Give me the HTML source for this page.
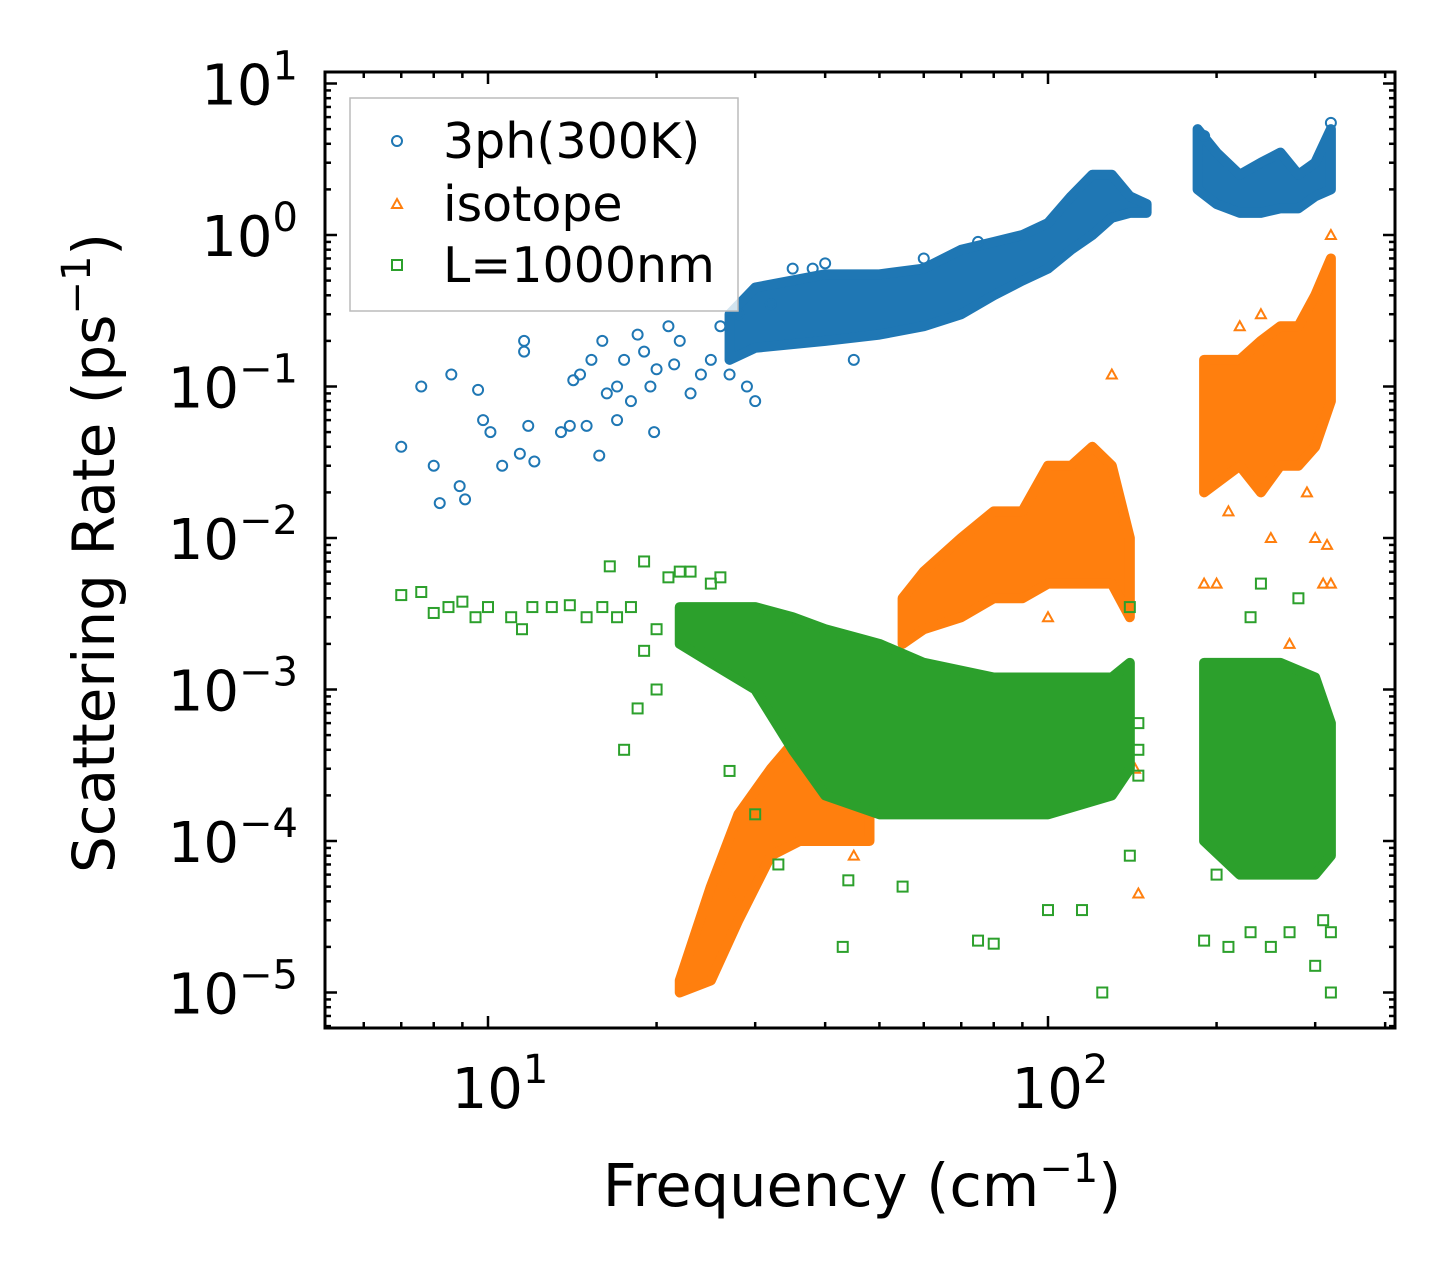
<!DOCTYPE html>
<html><head><meta charset="utf-8"><style>
body{margin:0;background:#fff}
svg{display:block;font-family:"DejaVu Sans","Liberation Sans",sans-serif}
</style></head><body>
<svg id="chart" width="1455" height="1279" viewBox="0 0 1455 1279" xmlns="http://www.w3.org/2000/svg">
<rect width="1455" height="1279" fill="#fff"/>
<g id="marks"></g>
<g id="axes"></g>
<text x="862" y="1206" font-size="59" text-anchor="middle">Frequency (cm<tspan dy="-24" font-size="40">−1</tspan><tspan dy="24">)</tspan></text>
<text transform="translate(114,553) rotate(-90)" font-size="58" text-anchor="middle">Scattering Rate (ps<tspan dy="-24" font-size="40">−1</tspan><tspan dy="24">)</tspan></text>
<g>
<rect x="350" y="98" width="388" height="213" fill="#fff" fill-opacity="0.8" stroke="#bbb" stroke-width="1.5"/>
<circle cx="397" cy="141" r="5" fill="none" stroke="#1f77b4" stroke-width="2"/>
<text x="443" y="158" font-size="49">3ph(300K)</text>
<path d="M397,199 l5,9 l-10,0 z" fill="none" stroke="#ff7f0e" stroke-width="2"/>
<text x="443" y="221" font-size="49">isotope</text>
<rect x="392" y="260" width="10" height="10" fill="none" stroke="#2ca02c" stroke-width="2"/>
<text x="443" y="282" font-size="49">L=1000nm</text>
</g>
</svg>
<script>
// dense cloud envelopes [x, ylow, yhigh]
const blueBand1=[[27,0.15,0.3],[30,0.18,0.45],[40,0.2,0.55],[50,0.22,0.55],[60,0.25,0.6],[70,0.3,0.8],[80,0.4,0.9],[90,0.5,1.0],[100,0.6,1.2],[110,0.8,1.8],[120,1.0,2.5],[130,1.3,2.5],[140,1.4,1.8],[150,1.4,1.6]];
const blueBand2=[[185,2,5],[200,1.6,3.5],[220,1.4,2.5],[240,1.4,3],[260,1.5,3.5],[280,1.5,2.5],[300,1.8,3],[320,2,5]];
const orangeBand1=[[22,1e-5,1.2e-5],[25,1.2e-5,5e-5],[28,3e-5,1.5e-4],[32,8e-5,3e-4],[36,1e-4,5e-4],[42,1e-4,8e-4],[48,1e-4,6e-4]];
const orangeBand2=[[55,2e-3,4e-3],[60,2.5e-3,6e-3],[70,3e-3,1e-2],[80,4e-3,1.5e-2],[90,4e-3,1.5e-2],[100,5e-3,3e-2],[110,5e-3,3e-2],[120,5e-3,4e-2],[130,5e-3,3e-2],[140,3e-3,1e-2]];
const orangeBand3=[[190,2e-2,1.5e-1],[220,3e-2,1.5e-1],[240,2e-2,2e-1],[260,3e-2,2.5e-1],[280,3e-2,2.5e-1],[300,4e-2,4e-1],[320,8e-2,7e-1]];
const greenBand1=[[22,2e-3,3.5e-3],[25,1.5e-3,3.5e-3],[30,1e-3,3.5e-3],[35,4e-4,3e-3],[40,2e-4,2.5e-3],[50,1.5e-4,2e-3],[60,1.5e-4,1.5e-3],[80,1.5e-4,1.2e-3],[100,1.5e-4,1.2e-3],[130,2e-4,1.2e-3],[140,3e-4,1.5e-3]];
const greenBand2=[[190,1e-4,1.5e-3],[220,6e-5,1.5e-3],[260,6e-5,1.5e-3],[300,6e-5,1.2e-3],[320,8e-5,6e-4]];
// outlier points [x,y]
const bluePts=[[7,0.04],[7.6,0.1],[8,0.03],[8.2,0.017],[8.6,0.12],[8.9,0.022],[9.1,0.018],[9.6,0.095],[9.8,0.06],[10.1,0.05],[10.6,0.03],[11.4,0.036],[11.6,0.2],[11.6,0.17],[11.8,0.055],[12.1,0.032],[13.5,0.05],[14,0.055],[14.2,0.11],[14.6,0.12],[15,0.055],[15.3,0.15],[15.8,0.035],[16,0.2],[16.3,0.09],[17,0.1],[17,0.06],[17.5,0.15],[18,0.08],[18.5,0.22],[19,0.17],[19.5,0.1],[19.8,0.05],[20,0.13],[21,0.25],[21.5,0.14],[22,0.2],[23,0.09],[24,0.12],[25,0.15],[26,0.25],[27,0.12],[28,0.3],[29,0.1],[30,0.08],[32,0.35],[35,0.6],[38,0.6],[40,0.65],[45,0.15],[60,0.7],[75,0.9],[190,4.5],[320,5.5]];
const orangePts=[[27,4.5e-5],[45,8e-5],[58,1.5e-3],[100,3e-3],[130,1e-3],[145,4.5e-5],[143,3e-4],[190,5e-3],[200,5e-3],[210,1.5e-2],[250,1e-2],[270,2e-3],[300,1e-2],[310,5e-3],[315,9e-3],[320,5e-3],[290,2e-2],[320,1],[220,0.25],[240,0.3],[130,0.12]];
const greenPts=[[7,4.2e-3],[7.6,4.4e-3],[8,3.2e-3],[8.5,3.5e-3],[9,3.8e-3],[9.5,3e-3],[10,3.5e-3],[11,3e-3],[11.5,2.5e-3],[12,3.5e-3],[13,3.5e-3],[14,3.6e-3],[15,3e-3],[16,3.5e-3],[16.5,6.5e-3],[17,3e-3],[18,3.5e-3],[19,7e-3],[19,1.8e-3],[20,2.5e-3],[21,5.5e-3],[22,6e-3],[23,6e-3],[24,2e-3],[25,5e-3],[26,5.5e-3],[17.5,4e-4],[18.5,7.5e-4],[20,1e-3],[27,2.9e-4],[30,1.5e-4],[33,7e-5],[43,2e-5],[44,5.5e-5],[55,5e-5],[75,2.2e-5],[80,2.1e-5],[125,1e-5],[115,3.5e-5],[100,3.5e-5],[140,8e-5],[145,2.7e-4],[145,4e-4],[145,6e-4],[190,2.2e-5],[210,2e-5],[230,2.5e-5],[250,2e-5],[270,2.5e-5],[300,1.5e-5],[320,1e-5],[310,3e-5],[200,6e-5],[230,3e-3],[240,5e-3],[280,4e-3],[320,2.5e-5],[140,3.5e-3]];
const xTicks=[1,2];
const yTicks=[1,0,-1,-2,-3,-4,-5];

const NS="http://www.w3.org/2000/svg";
const L=325,R=1395,T=72,B=1028;
const X=v=>488+(Math.log10(v)-1)*560;
const Y=v=>235-Math.log10(v)*151.5;
function el(tag,attrs,parent){const e=document.createElementNS(NS,tag);for(const k in attrs)e.setAttribute(k,attrs[k]);parent.appendChild(e);return e;}
const marks=document.getElementById('marks'),axes=document.getElementById('axes');
const defs=el('defs',{},marks);
const cp=el('clipPath',{id:'cp'},defs);el('rect',{x:L,y:T,width:R-L,height:B-T},cp);
marks.setAttribute('clip-path','url(#cp)');
function band(arr,color,name){
  let d='M'+arr.map(p=>X(p[0])+','+Y(p[2])).join('L');
  d+='L'+arr.slice().reverse().map(p=>X(p[0])+','+Y(p[1])).join('L')+'Z';
  const p=el('path',{d:d,fill:color,stroke:color,'stroke-width':10,'stroke-linejoin':'round'},marks);
  
  
}
band(blueBand1,'#1f77b4','3ph-cloud-low');band(blueBand2,'#1f77b4','3ph-cloud-high');
bluePts.forEach(p=>{const c=el('circle',{cx:X(p[0]),cy:Y(p[1]),r:5,fill:'none',stroke:'#1f77b4','stroke-width':2},marks);

});
band(orangeBand1,'#ff7f0e','isotope-cloud-acoustic');band(orangeBand2,'#ff7f0e','isotope-cloud-mid');band(orangeBand3,'#ff7f0e','isotope-cloud-high');
orangePts.forEach(p=>{const x=X(p[0]),y=Y(p[1]);const c=el('path',{d:`M${x},${y-5} l5,9 l-10,0 z`,fill:'none',stroke:'#ff7f0e','stroke-width':2},marks);

});
band(greenBand1,'#2ca02c','boundary-cloud-low');band(greenBand2,'#2ca02c','boundary-cloud-high');
greenPts.forEach(p=>{const c=el('rect',{x:X(p[0])-5,y:Y(p[1])-5,width:10,height:10,fill:'none',stroke:'#2ca02c','stroke-width':2},marks);

});
el('rect',{x:L,y:T,width:R-L,height:B-T,fill:'none',stroke:'#000','stroke-width':3},axes);
function tick(x1,y1,x2,y2){el('line',{x1,y1,x2,y2,stroke:'#000','stroke-width':2.5},axes);}
for(let dec=0;dec<=2;dec++)for(let m=1;m<10;m++){const v=m*Math.pow(10,dec);const x=X(v);if(x<=L||x>=R)continue;const len=m===1?12:6;tick(x,B,x,B-len);tick(x,T,x,T+len);}
for(let dec=-6;dec<=1;dec++)for(let m=1;m<10;m++){const v=m*Math.pow(10,dec);const y=Y(v);if(y<=T||y>=B)continue;const len=m===1?12:6;tick(L,y,L+len,y);tick(R,y,R-len,y);}
xTicks.forEach(e=>{const t=el('text',{x:X(Math.pow(10,e))+12,y:1108,'font-size':56,'text-anchor':'middle'},axes);t.innerHTML='10<tspan dy="-25" font-size="40">'+e+'</tspan>';

});
yTicks.forEach(e=>{const t=el('text',{x:298,y:Y(Math.pow(10,e))+21,'font-size':56,'text-anchor':'end'},axes);t.innerHTML='10<tspan dy="-25" font-size="40">'+(e<0?'−'+(-e):e)+'</tspan>';

});
</script>
</body></html>
